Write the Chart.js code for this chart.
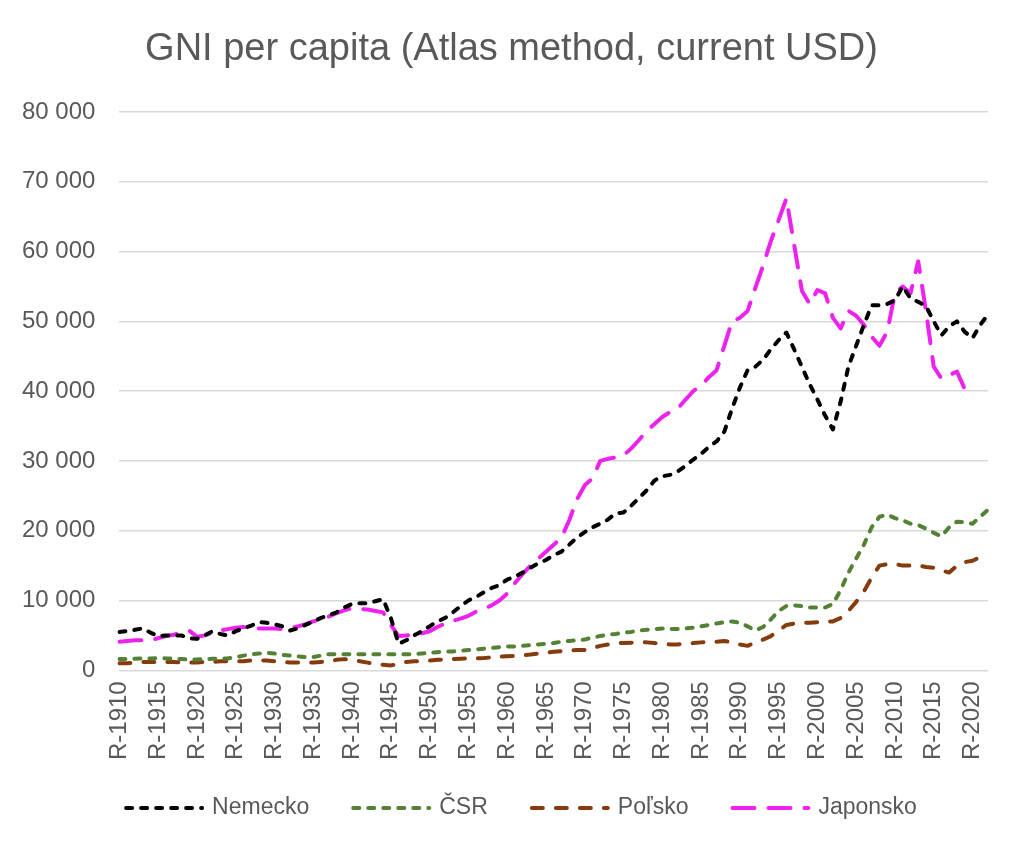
<!DOCTYPE html>
<html>
<head>
<meta charset="utf-8">
<title>GNI per capita</title>
<script src="https://cdn.jsdelivr.net/npm/chart.js@4/dist/chart.umd.min.js"></script>
<style>
    body { margin: 0; background: #ffffff; }
    #graf { display: block; }
</style>
</head>
<body>
<canvas id="graf" width="1023" height="853"></canvas>
<script>
// roky 1910 - 2022
const roky = [];
for (let r = 1910; r <= 2022; r++) roky.push("R-" + r);

const nazov = "GNI per capita (Atlas method, current USD)";

const nemecko = [
    5500, 5600, 5800, 6000, 5400, 4900, 5000, 5000, 5000, 4600,
    4500, 5000, 5600, 5200, 5000, 5600, 6000, 6400, 6900, 6800,
    6600, 6300, 5700, 6000, 6500, 7000, 7500, 7900, 8300, 9000,
    9500, 9600, 9600, 9900, 10200, 7500, 3800, 4300, 5000, 5600,
    6300, 7000, 7500, 8300, 9200, 10000, 10500, 11200, 11800, 12200,
    13000, 13400, 14000, 14700, 15300, 15800, 16500, 17000, 18000, 19000,
    19800, 20500, 21000, 21600, 22500, 22600, 23600, 24700, 25800, 27200,
    27800, 28000, 28500, 29300, 30200, 31000, 32000, 32800, 34200, 37500,
    40500, 43000, 43500, 44500, 46000, 47300, 48400, 46000, 43500, 41000,
    38800, 36500, 34500, 38500, 43500, 46500, 49500, 52300, 52300, 52500,
    53000, 55000, 53300, 52800, 52200, 50000, 48000, 49300, 50000, 48500,
    47600, 49500, 51000
];

const csr = [
    1600, 1600, 1650, 1700, 1700, 1750, 1700, 1650, 1600, 1550,
    1550, 1600, 1650, 1700, 1700, 1900, 2100, 2300, 2400, 2500,
    2400, 2200, 2100, 2000, 1900, 1900, 2100, 2300, 2300, 2300,
    2300, 2300, 2300, 2300, 2300, 2300, 2300, 2300, 2300, 2400,
    2500, 2600, 2700, 2700, 2800, 2900, 3000, 3100, 3200, 3300,
    3400, 3400, 3500, 3600, 3700, 3800, 3900, 4100, 4200, 4300,
    4400, 4700, 4900, 5100, 5200, 5400, 5500, 5700, 5800, 5900,
    6000, 5900, 5900, 6000, 6100, 6300, 6500, 6700, 6900, 7000,
    6800, 6300, 5700, 6200, 7300, 8500, 9200, 9300, 9200, 9000,
    9000, 9000, 9500, 11500, 14000, 16000, 18000, 20500, 22000, 22300,
    21800, 21500, 21000, 20800, 20300, 19700, 19200, 20500, 21300, 21200,
    21000, 22000, 23000
];

const polsko = [
    1000, 1000, 1100, 1200, 1200, 1200, 1200, 1200, 1100, 1100,
    1100, 1200, 1200, 1300, 1300, 1300, 1300, 1400, 1400, 1400,
    1300, 1200, 1100, 1100, 1100, 1100, 1200, 1300, 1500, 1600,
    1500, 1300, 1100, 900, 800, 700, 900, 1200, 1300, 1300,
    1400, 1500, 1550, 1600, 1650, 1700, 1700, 1750, 1850, 1950,
    2000, 2050, 2150, 2250, 2400, 2500, 2650, 2750, 2850, 2900,
    2900, 3200, 3500, 3700, 3900, 3900, 3950, 4000, 4000, 3900,
    3800, 3700, 3700, 3800, 3900, 4000, 4100, 4100, 4200, 4000,
    3700, 3500, 4000, 4400, 4900, 5700, 6500, 6700, 6800, 6800,
    6900, 7000, 7000, 7500, 8500, 9800, 11300, 13300, 15000, 15200,
    15200, 15000, 15000, 15000, 14800, 14700, 14300, 14000, 15000, 15500,
    15700, 16200, 16700
];

const japonsko = [
    4100, 4200, 4300, 4300, 4300, 4600, 4900, 5100, 5400, 5700,
    4800, 5000, 5400, 5700, 5900, 6100, 6200, 6100, 6000, 6000,
    6000, 5900, 6000, 6300, 6600, 7000, 7300, 7700, 8200, 8600,
    8900, 8800, 8700, 8500, 8300, 6500, 4900, 5000, 5100, 5300,
    5600, 6200, 6700, 7100, 7400, 7800, 8400, 8800, 9300, 10000,
    11000, 12500, 13800, 15000, 16000, 17000, 18000, 19000, 21500, 24500,
    26500, 27500, 30000, 30300, 30500, 30800, 31800, 33000, 34300, 35300,
    36300, 37000, 37500, 38800, 40000, 40800, 42000, 43000, 46500, 50000,
    50500, 51500, 54800, 58000, 61500, 64500, 67600, 61000, 54400, 52500,
    54500, 54000, 50500, 49000, 51500, 50800, 49500, 47800, 46500, 48500,
    54000, 55000, 54000, 58600, 51500, 43500, 41800, 42300, 42800, 40300,
    41200, null, null
];

const sedaText = "#595959";
const pismo = "'Liberation Sans', Arial, sans-serif";

function medzery(v) {
    return String(v).replace(/\B(?=(\d{3})+(?!\d))/g, " ");
}

function serie(meno, data, farba, ciarky) {
    return {
        label: meno,
        data: data,
        borderColor: farba,
        backgroundColor: farba,
        borderWidth: 4,
        borderDash: ciarky,
        borderCapStyle: "round",
        borderJoinStyle: "round",
        pointRadius: 0,
        tension: 0,
        spanGaps: false
    };
}

// nadpis v strede platna a legenda dole s prerusovanymi ciarami
const popisy = {
    id: "popisy",
    afterDraw(chart) {
        const ctx = chart.ctx;
        ctx.save();
        ctx.fillStyle = sedaText;
        ctx.textBaseline = "middle";
        ctx.textAlign = "center";
        ctx.font = "38px " + pismo;
        ctx.fillText(nazov, chart.width / 2, 50);

        const ciara = 80, medzera = 8, odstup = 42, y = 808;
        ctx.textAlign = "left";
        ctx.font = "23px " + pismo;
        const sirky = chart.data.datasets.map(d => ciara + medzera + ctx.measureText(d.label).width);
        const spolu = sirky.reduce((a, b) => a + b, 0) + odstup * (sirky.length - 1);
        let x = (chart.width - spolu) / 2 + 9;
        chart.data.datasets.forEach((d, i) => {
            ctx.strokeStyle = d.borderColor;
            ctx.lineWidth = d.borderWidth;
            ctx.lineCap = d.borderCapStyle;
            ctx.setLineDash(d.borderDash);
            ctx.beginPath();
            ctx.moveTo(x + 2, y);
            ctx.lineTo(x + ciara - 2, y);
            ctx.stroke();
            ctx.setLineDash([]);
            ctx.fillText(d.label, x + ciara + medzera, y);
            x += sirky[i] + odstup;
        });
        ctx.restore();
    }
};

new Chart(document.getElementById("graf"), {
    type: "line",
    data: {
        labels: roky,
        datasets: [
            serie("Nemecko", nemecko, "#000000", [6, 9]),
            serie("ČSR", csr, "#548235", [6, 9]),
            serie("Poľsko", polsko, "#843c0c", [11, 13]),
            serie("Japonsko", japonsko, "#ee22ee", [22, 14])
        ]
    },
    options: {
        responsive: false,
        animation: false,
        devicePixelRatio: 1,
        layout: { padding: { left: -2, right: 35, top: 112, bottom: 90 } },
        plugins: {
            title: { display: false },
            legend: { display: false },
            tooltip: { enabled: false }
        },
        scales: {
            x: {
                offset: false,
                grid: { display: false },
                border: { display: false },
                ticks: {
                    autoSkip: false,
                    maxRotation: 90,
                    minRotation: 90,
                    padding: 3,
                    color: sedaText,
                    font: { family: pismo, size: 24 },
                    callback: function (v, i) {
                        return (1910 + i) % 5 === 0 ? roky[i] : "";
                    }
                }
            },
            y: {
                min: 0,
                max: 80000,
                border: { display: false },
                grid: { color: "#d9d9d9", lineWidth: 1.5, drawTicks: false },
                ticks: {
                    stepSize: 10000,
                    padding: 24,
                    color: sedaText,
                    font: { family: pismo, size: 24 },
                    callback: function (v) { return medzery(v); }
                }
            }
        }
    },
    plugins: [popisy]
});
</script>
</body>
</html>
